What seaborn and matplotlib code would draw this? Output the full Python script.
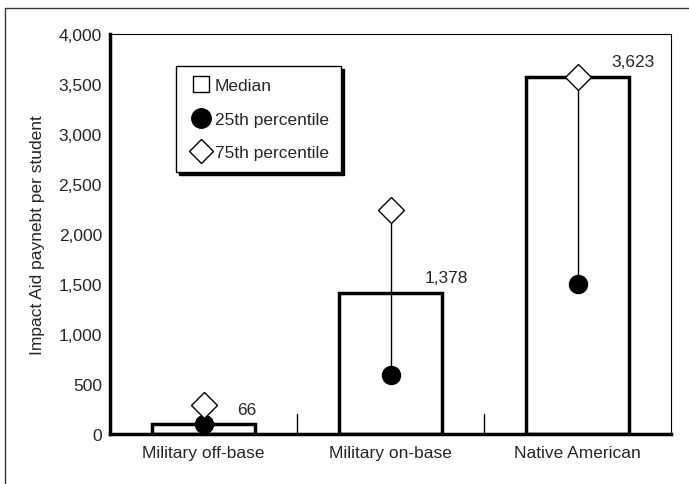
import numpy as np
import pandas as pd
import seaborn as sns
import matplotlib.pyplot as plt
from matplotlib.lines import Line2D

# values (bar heights as drawn, labels as printed)
categories = ["Military off-base", "Military on-base", "Native American"]
median = [100, 1410, 3570]
p25 = [100, 590, 1500]
p75 = [290, 2240, 3570]
value_labels = ["66", "1,378", "3,623"]

df = pd.DataFrame({"group": categories, "median": median, "p25": p25, "p75": p75})

sns.set_theme(style="white", context="notebook")
plt.rcParams["font.family"] = ["Liberation Sans", "DejaVu Sans"]
fs = 12.5

fig = plt.figure(figsize=(6.89, 4.85), dpi=100)
ax = fig.add_axes([0.16, 0.103, 0.814, 0.825])

sns.barplot(data=df, x="group", y="median", color="white", edgecolor="black",
            linewidth=2.5, width=0.55, saturation=1, ax=ax)

pos = np.arange(len(categories))
ax.vlines(pos, df["p25"], df["p75"], color="black", lw=1, zorder=3)
ax.plot(pos, df["p25"], "o", color="black", ms=13, zorder=4)
ax.plot(pos, df["p75"], "D", mfc="white", mec="black", mew=1, ms=13, zorder=5)

# value labels
for i, (v, t) in enumerate(zip(median, value_labels)):
    ax.text(i + 0.18, v + 150, t, ha="left", va="center", fontsize=fs)

ax.set_xlim(-0.5, 2.5)
ax.set_ylim(0, 4000)
ax.set_yticks(np.arange(0, 4001, 500))
ax.set_yticklabels([f"{v:,}" for v in range(0, 4001, 500)], fontsize=fs)
ax.set_xticks(pos)
ax.set_xticklabels(categories, fontsize=fs)
ax.tick_params(axis="x", length=0, pad=8)
ax.tick_params(axis="y", direction="in", length=19, width=1, color="black", pad=6)
# divider ticks between the groups
for xv in [0.5, 1.5]:
    ax.plot([xv, xv], [0, 200], color="black", lw=1)

ax.set_xlabel("")
ax.set_ylabel("Impact Aid paynebt per student", fontsize=fs, labelpad=10)

for side in ["left", "bottom"]:
    ax.spines[side].set_linewidth(2.5)
for side in ["top", "right"]:
    ax.spines[side].set_linewidth(0.8)
for s in ax.spines.values():
    s.set_color("black")

handles = [
    Line2D([], [], ls="", marker="s", mfc="white", mec="black", ms=11, mew=1),
    Line2D([], [], ls="", marker="o", color="black", ms=14),
    Line2D([], [], ls="", marker="D", mfc="white", mec="black", ms=12, mew=1),
]
leg = ax.legend(handles, ["Median", "25th percentile", "75th percentile"],
                loc="upper left", bbox_to_anchor=(0.118, 0.92), fontsize=fs,
                frameon=True, fancybox=False, shadow={"color": "black", "alpha": 1},
                handletextpad=0.1, borderpad=0.7, labelspacing=1.05, handlelength=1.4,
                borderaxespad=0)
leg.get_frame().set_edgecolor("black")
leg.get_frame().set_linewidth(1)

# scan frame: only top and left edges show
fig.add_artist(Line2D([0.007, 1.0], [0.981, 0.981], transform=fig.transFigure,
                      color="#333333", lw=1))
fig.add_artist(Line2D([0.007, 0.007], [0.0, 0.981], transform=fig.transFigure,
                      color="#333333", lw=1))

fig.savefig("out.png", dpi=100)
